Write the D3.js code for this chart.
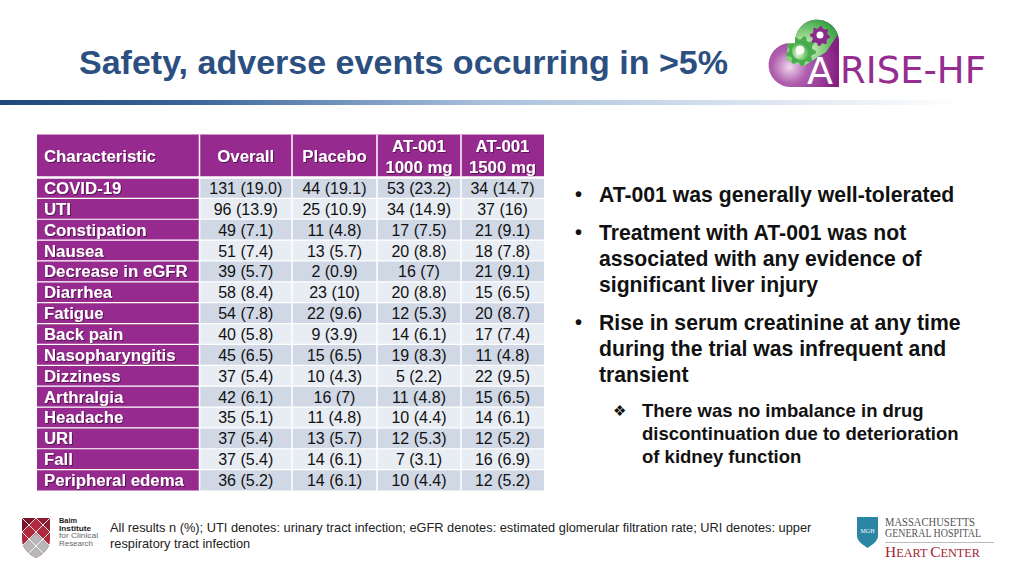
<!DOCTYPE html>
<html><head><meta charset="utf-8">
<script src="https://cdn.jsdelivr.net/npm/d3@7"></script>
<style>
html,body{margin:0;padding:0;background:#fff;}
svg{display:block;font-family:"Liberation Sans",Arial,sans-serif;}
</style></head>
<body>
<svg id="c" width="1024" height="576"></svg>
<script>
const title = "Safety, adverse events occurring in >5%";
const columns = ["Characteristic", "Overall", "Placebo", "AT-001|1000 mg", "AT-001|1500 mg"];
const characteristics = ["COVID-19","UTI","Constipation","Nausea","Decrease in eGFR","Diarrhea","Fatigue","Back pain","Nasopharyngitis","Dizziness","Arthralgia","Headache","URI","Fall","Peripheral edema"];
const overall = ["131 (19.0)","96 (13.9)","49 (7.1)","51 (7.4)","39 (5.7)","58 (8.4)","54 (7.8)","40 (5.8)","45 (6.5)","37 (5.4)","42 (6.1)","35 (5.1)","37 (5.4)","37 (5.4)","36 (5.2)"];
const placebo = ["44 (19.1)","25 (10.9)","11 (4.8)","13 (5.7)","2 (0.9)","23 (10)","22 (9.6)","9 (3.9)","15 (6.5)","10 (4.3)","16 (7)","11 (4.8)","13 (5.7)","14 (6.1)","14 (6.1)"];
const at1000 = ["53 (23.2)","34 (14.9)","17 (7.5)","20 (8.8)","16 (7)","20 (8.8)","12 (5.3)","14 (6.1)","19 (8.3)","5 (2.2)","11 (4.8)","10 (4.4)","12 (5.3)","7 (3.1)","10 (4.4)"];
const at1500 = ["34 (14.7)","37 (16)","21 (9.1)","18 (7.8)","21 (9.1)","15 (6.5)","20 (8.7)","17 (7.4)","11 (4.8)","22 (9.5)","15 (6.5)","14 (6.1)","12 (5.2)","16 (6.9)","12 (5.2)"];
const bullets = [
  ["AT-001 was generally well-tolerated"],
  ["Treatment with AT-001 was not","associated with any evidence of","significant liver injury"],
  ["Rise in serum creatinine at any time","during the trial was infrequent and","transient"]
];
const subBullet = ["There was no imbalance in drug","discontinuation due to deterioration","of kidney function"];
const footnote = ["All results n (%); UTI denotes: urinary tract infection; eGFR denotes: estimated glomerular filtration rate; URI denotes: upper","respiratory tract infection"];

const svg = d3.select("#c");
const PURPLE = "#972a8f";
svg.append("rect").attr("width",1024).attr("height",576).attr("fill","#fff");

const defs = svg.append("defs");
const g1 = defs.append("linearGradient").attr("id","bar");
g1.append("stop").attr("offset","0%").attr("stop-color","#1f4778");
g1.append("stop").attr("offset","20%").attr("stop-color","#3a659a");
g1.append("stop").attr("offset","50%").attr("stop-color","#a9c0dc");
g1.append("stop").attr("offset","100%").attr("stop-color","#ffffff");
const g2 = defs.append("radialGradient").attr("id","heart").attr("cx","30%").attr("cy","70%").attr("r","70%");
g2.append("stop").attr("offset","0%").attr("stop-color","#f0d8f0");
g2.append("stop").attr("offset","35%").attr("stop-color","#b060ae");
g2.append("stop").attr("offset","100%").attr("stop-color","#851f83");
const g3 = defs.append("radialGradient").attr("id","gear").attr("cx","35%").attr("cy","65%").attr("r","70%");
g3.append("stop").attr("offset","0%").attr("stop-color","#eef9ea");
g3.append("stop").attr("offset","45%").attr("stop-color","#8fd383");
g3.append("stop").attr("offset","100%").attr("stop-color","#35a043");
const sh = defs.append("filter").attr("id","ts").attr("x","-5%").attr("y","-20%").attr("width","110%").attr("height","140%");
sh.append("feDropShadow").attr("dx",1).attr("dy",1).attr("stdDeviation",0.6).attr("flood-color","#000").attr("flood-opacity",0.45);

// Title
svg.append("text").attr("x",79).attr("y",74).attr("font-size",33.5).attr("font-weight","bold")
  .attr("fill","#2b4f80").attr("textLength",649).attr("lengthAdjust","spacingAndGlyphs").text(title);
svg.append("rect").attr("x",0).attr("y",100).attr("width",965).attr("height",5).attr("fill","url(#bar)");

// Logo ARISE-HF
const logo = svg.append("g");
const heartD = "M839,87 L792,87 A22,22 0 1 1 795,43.5 A22,22 0 1 1 839,40 Z";
defs.append("clipPath").attr("id","hclip").append("path").attr("d",heartD);
logo.append("path").attr("d",heartD).attr("fill","url(#heart)");
function gear(cx,cy,r,teeth){
  const pts=[];const n=teeth*4;
  for(let i=0;i<n;i++){const a=i/n*2*Math.PI;const rr=(i%4<2)?r:r*0.78;pts.push([cx+rr*Math.cos(a),cy+rr*Math.sin(a)]);}
  return d3.line().curve(d3.curveLinearClosed)(pts);
}
const lg = logo.append("g").attr("clip-path","url(#hclip)");
lg.append("path").attr("d","M788,44 C790,27 805,17 820,18 C830,19 836,25 839,33 L826,52 L804,66 L786,60 Z").attr("fill","url(#gear)");
lg.append("path").attr("d",gear(801,51,15,9)).attr("fill","#49ad4d");
lg.append("circle").attr("cx",801).attr("cy",51).attr("r",9).attr("fill","url(#gear)");
lg.append("circle").attr("cx",800).attr("cy",50).attr("r",4.5).attr("fill","#fff").attr("opacity",0.9);
lg.append("path").attr("d",gear(820,36,10,8)).attr("fill","#8b2a8b");
lg.append("circle").attr("cx",820).attr("cy",35).attr("r",3.5).attr("fill","#fff");
logo.append("text").attr("x",807).attr("y",84).attr("font-family","'DejaVu Sans',sans-serif").attr("font-size",38).attr("fill","#fff").text("A");
logo.append("text").attr("x",840).attr("y",83).attr("font-family","'DejaVu Sans',sans-serif").attr("font-size",37)
  .attr("fill","#952d91").attr("textLength",146).attr("lengthAdjust","spacingAndGlyphs").text("RISE-HF");

// Table
const colEdges = [37, 199.5, 292, 377, 461, 544];
const x = d3.scaleBand().domain(columns).range([0, columns.length]);
const colLeft = c => colEdges[Math.round(x(c))];
const colRight = c => colEdges[Math.round(x(c))+1];
const y = d3.scaleBand().domain(characteristics).range([177.5, 490.5]);
const headTop = 134.5, headBot = 177.5;
const table = svg.append("g");
const valueCols = [overall, placebo, at1000, at1500];

// header
columns.forEach(c => {
  table.append("rect").attr("x",colLeft(c)).attr("y",headTop).attr("width",colRight(c)-colLeft(c)).attr("height",headBot-headTop).attr("fill",PURPLE);
  const parts = c.split("|");
  const t = table.append("text").attr("fill","#fff").attr("font-weight","bold").attr("font-size",16.8).attr("filter","url(#ts)");
  if (c === "Characteristic") {
    t.attr("x",colLeft(c)+7).attr("y",(headTop+headBot)/2+6).text(c);
  } else if (parts.length === 1) {
    t.attr("x",(colLeft(c)+colRight(c))/2).attr("y",(headTop+headBot)/2+6).attr("text-anchor","middle").text(c);
  } else {
    t.attr("text-anchor","middle");
    parts.forEach((p,i)=> t.append("tspan").attr("x",(colLeft(c)+colRight(c))/2).attr("y",headTop+17.5+i*21).text(p));
  }
});
// body
characteristics.forEach((ch,i) => {
  const y0 = y(ch), h = y.bandwidth();
  table.append("rect").attr("x",colLeft(columns[0])).attr("y",y0).attr("width",colRight(columns[0])-colLeft(columns[0])).attr("height",h).attr("fill",PURPLE);
  table.append("text").attr("x",colLeft(columns[0])+7).attr("y",y0+h/2+6).attr("fill","#fff").attr("font-weight","bold").attr("font-size",16.8).attr("filter","url(#ts)").text(ch);
  valueCols.forEach((vals,j) => {
    const c = columns[j+1];
    table.append("rect").attr("x",colLeft(c)).attr("y",y0).attr("width",colRight(c)-colLeft(c)).attr("height",h).attr("fill", i%2===0 ? "#d0d8e6" : "#e8ecf3");
    table.append("text").attr("x",(colLeft(c)+colRight(c))/2).attr("y",y0+h/2+6).attr("text-anchor","middle").attr("font-size",16).attr("fill","#111").text(vals[i]);
  });
});
// grid lines
colEdges.slice(1,-1).forEach(e => table.append("line").attr("x1",e).attr("x2",e).attr("y1",headTop).attr("y2",490.5).attr("stroke","#fff").attr("stroke-width",1.5));
table.append("line").attr("x1",37).attr("x2",544).attr("y1",headBot).attr("y2",headBot).attr("stroke","#fff").attr("stroke-width",2.5);
characteristics.slice(1).forEach(ch => table.append("line").attr("x1",37).attr("x2",544).attr("y1",y(ch)).attr("y2",y(ch)).attr("stroke","#fff").attr("stroke-width",1.2));

// Bullets
const bl = svg.append("g").attr("font-weight","bold").attr("fill","#111");
const starts = [194, 232, 322];
bullets.forEach((lines,i) => {
  bl.append("text").attr("x",575).attr("y",starts[i]+7).attr("font-size",20).text("•");
  lines.forEach((l,k) => bl.append("text").attr("x",599).attr("y",starts[i]+7.5+k*26).attr("font-size",21.2).text(l));
});
bl.append("text").attr("x",613).attr("y",416).attr("font-size",15).attr("font-family","'DejaVu Sans',sans-serif").text("❖");
subBullet.forEach((l,k) => bl.append("text").attr("x",642).attr("y",416.5+k*23).attr("font-size",18.5).text(l));

// Footnote
footnote.forEach((l,k) => svg.append("text").attr("x",110).attr("y",532+k*15.5).attr("font-size",12.8).attr("fill","#222").text(l));

// Baim logo
const baim = svg.append("g");
const shieldD = "M22,518 L50,518 L50,540 C50,549 42,555 36,558 C30,555 22,549 22,540 Z";
defs.append("clipPath").attr("id","bclip").append("path").attr("d",shieldD);
baim.append("path").attr("d",shieldD).attr("fill","#b02a3f");
const bg = baim.append("g").attr("clip-path","url(#bclip)");
bg.append("path").attr("d","M22,518 L36,518 L22,532 Z").attr("fill","#7a1428");
bg.append("path").attr("d","M36,518 L50,518 L50,532 Z").attr("fill","#8e1c31");
bg.append("path").attr("d","M22,546 L36,533 L50,546 L50,560 L22,560 Z").attr("fill","#b7b7b7");
[[22,518,50,546],[22,532,50,560],[22,504,50,532],[50,518,22,546],[50,532,22,560],[50,504,22,532]].forEach(d=>bg.append("line").attr("x1",d[0]).attr("y1",d[1]).attr("x2",d[2]).attr("y2",d[3]).attr("stroke","#fff").attr("stroke-width",1).attr("opacity",0.85));
[["Baim",523,"bold","#222",18],["Institute",530.6,"bold","#222",32],["for Clinical",538.2,"normal","#666",39],["Research",545.8,"normal","#666",34]].forEach(d=>
  baim.append("text").attr("x",59).attr("y",d[1]).attr("font-size",6.5).attr("font-weight",d[2]).attr("fill",d[3])
    .attr("textLength",d[4]).attr("lengthAdjust","spacingAndGlyphs").text(d[0]));

// MGH logo
const mgh = svg.append("g");
mgh.append("path").attr("d","M857,517 L878,517 L878,536 C878,541 872,545 867.5,548 C863,545 857,541 857,536 Z").attr("fill","#2b86a3");
mgh.append("text").attr("x",867.5).attr("y",533).attr("text-anchor","middle").attr("font-size",6).attr("font-family","'Liberation Serif',serif").attr("fill","#fff").text("MGH");
mgh.append("text").attr("x",885).attr("y",525.5).attr("font-size",11.5).attr("font-family","'Liberation Serif',serif").attr("fill","#555").attr("textLength",90).attr("lengthAdjust","spacingAndGlyphs").text("MASSACHUSETTS");
mgh.append("text").attr("x",885).attr("y",537).attr("font-size",11.5).attr("font-family","'Liberation Serif',serif").attr("fill","#555").attr("textLength",96).attr("lengthAdjust","spacingAndGlyphs").text("GENERAL HOSPITAL");
mgh.append("line").attr("x1",885).attr("x2",994).attr("y1",542.5).attr("y2",542.5).attr("stroke","#bbb").attr("stroke-width",1);
const hc = mgh.append("text").attr("x",885).attr("y",557).attr("font-family","'Liberation Serif',serif").attr("fill","#a3232f").attr("font-size",11.5).attr("textLength",95).attr("lengthAdjust","spacingAndGlyphs");
hc.append("tspan").attr("font-size",14.5).text("H"); hc.append("tspan").text("EART ");
hc.append("tspan").attr("font-size",14.5).text("C"); hc.append("tspan").text("ENTER");
</script>
</body></html>
